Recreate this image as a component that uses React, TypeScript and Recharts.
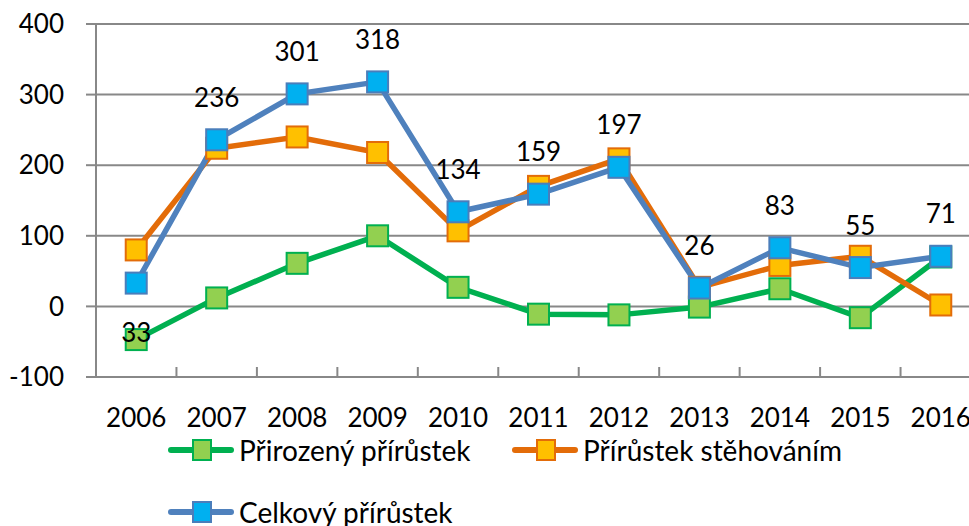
import { CartesianGrid, LabelList, Legend, Line, LineChart, XAxis, YAxis } from 'recharts';

const years = ['2006', '2007', '2008', '2009', '2010', '2011', '2012', '2013', '2014', '2015', '2016'];
// Přirozený přírůstek
const natural = [-47, 12, 61, 100, 27, -11, -12, -1, 25, -16, 70];
// Přírůstek stěhováním
const migration = [80, 224, 240, 218, 107, 170, 209, 27, 58, 71, 2];
// Celkový přírůstek
const total = [33, 236, 301, 318, 134, 159, 197, 26, 83, 55, 71];
const yTicks = [-100, 0, 100, 200, 300, 400];

const FONT = 'Lato, "Open Sans", sans-serif';
const GRID = '#888888';

const series = [
  { key: 'natural', name: 'Přirozený přírůstek', line: '#00b050', fill: '#92d050', edge: '#00b050' },
  { key: 'migration', name: 'Přírůstek stěhováním', line: '#e36c09', fill: '#ffc000', edge: '#e36c09' },
  { key: 'total', name: 'Celkový přírůstek', line: '#4f81bd', fill: '#00b0f0', edge: '#4a7ebb' },
];

const data = years.map((year, i) => ({
  year,
  natural: natural[i],
  migration: migration[i],
  total: total[i],
}));

const CHART_W = 990;
const CHART_H = 526;
const MARGIN = { top: 24, right: 9, bottom: 0, left: 0 };
const Y_AXIS_W = 96;
// width of one category band, used for the boundary tick marks and edge padding
const BAND = (CHART_W - MARGIN.left - MARGIN.right - Y_AXIS_W) / years.length;

// legend item spots (the reference wraps the third item onto a second row)
const legendSpots = [
  { left: 168, top: 7 },
  { left: 512, top: 7 },
  { left: 168, top: 69 },
];

function squareDot(fill: string, edge: string) {
  // eslint-disable-next-line @typescript-eslint/no-explicit-any
  return (props: any) => {
    const { cx, cy, index, key } = props ?? {};
    if (typeof cx !== 'number' || typeof cy !== 'number') {
      return <g key={key ?? `dot-${index}`} />;
    }
    return (
      <rect
        key={key ?? `dot-${index}`}
        x={cx - 10.5}
        y={cy - 10.5}
        width={21}
        height={21}
        fill={fill}
        stroke={edge}
        strokeWidth={2}
      />
    );
  };
}

// eslint-disable-next-line @typescript-eslint/no-explicit-any
function YearTick(props: any) {
  const { x, y, payload, index } = props;
  const half = BAND / 2;
  return (
    <g>
      <line x1={x - half} x2={x - half} y1={y} y2={y - 10} stroke={GRID} strokeWidth={2} />
      {index === years.length - 1 && (
        <line x1={x + half} x2={x + half} y1={y} y2={y - 10} stroke={GRID} strokeWidth={2} />
      )}
      <text x={x} y={y + 41} dy="0.35em" textAnchor="middle" fontSize={26} fontFamily={FONT} fill="#000">
        {payload.value}
      </text>
    </g>
  );
}

// eslint-disable-next-line @typescript-eslint/no-explicit-any
function TotalLabel(props: any) {
  const x = props.x ?? props.viewBox?.x;
  const y = props.y ?? props.viewBox?.y;
  if (typeof x !== 'number' || typeof y !== 'number') return null;
  // first label sits under its marker in the reference
  const cy = props.index === 0 ? y + 50 : y - 42;
  return (
    <text x={x} y={cy} dy="0.35em" textAnchor="middle" fontSize={26} fontFamily={FONT} fill="#000">
      {props.value}
    </text>
  );
}

function LegendBox() {
  return (
    <div style={{ position: 'relative', height: 96, width: '100%' }}>
      {series.map((s, i) => (
        <div
          key={s.key}
          style={{
            position: 'absolute',
            left: legendSpots[i].left,
            top: legendSpots[i].top,
            height: 26,
            display: 'flex',
            alignItems: 'center',
          }}
        >
          <svg width={66} height={24} style={{ display: 'block' }}>
            <line x1={3} x2={63} y1={12} y2={12} stroke={s.line} strokeWidth={6} strokeLinecap="round" />
            <rect x={25} y={2} width={18} height={20} fill={s.fill} stroke={s.edge} strokeWidth={2} />
          </svg>
          <span
            style={{
              fontSize: 28,
              fontFamily: FONT,
              color: '#000',
              marginLeft: 5,
              lineHeight: '26px',
              whiteSpace: 'nowrap',
            }}
          >
            {s.name}
          </span>
        </div>
      ))}
    </div>
  );
}

export default function App() {
  return (
    <div
      style={{
        position: 'absolute',
        left: 0,
        top: 0,
        width: 969,
        height: 526,
        overflow: 'hidden',
        background: '#fff',
      }}
    >
      <LineChart width={CHART_W} height={CHART_H} data={data} margin={MARGIN}>
        <CartesianGrid vertical={false} stroke={GRID} strokeWidth={2} />
        <XAxis
          dataKey="year"
          height={53}
          padding={{ left: BAND / 2, right: BAND / 2 }}
          tickSize={0}
          tickMargin={0}
          tickLine={false}
          axisLine={{ stroke: GRID, strokeWidth: 2 }}
          tick={(p) => <YearTick {...p} />}
          interval={0}
        />
        <YAxis
          type="number"
          width={Y_AXIS_W}
          domain={[-100, 400]}
          ticks={yTicks}
          interval={0}
          tickSize={10}
          tickMargin={22}
          axisLine={{ stroke: GRID, strokeWidth: 2 }}
          tickLine={{ stroke: GRID, strokeWidth: 2 }}
          tick={{ fill: '#000', fontSize: 26, fontFamily: FONT }}
        />
        <Legend verticalAlign="bottom" align="left" content={() => <LegendBox />} />
        {series.map((s) => (
          <Line
            key={s.key}
            type="linear"
            dataKey={s.key}
            name={s.name}
            stroke={s.line}
            strokeWidth={5.5}
            dot={squareDot(s.fill, s.edge)}
            activeDot={false}
            isAnimationActive={false}
          >
            {s.key === 'total' && <LabelList dataKey="total" content={(p) => <TotalLabel {...p} />} />}
          </Line>
        ))}
      </LineChart>
    </div>
  );
}
